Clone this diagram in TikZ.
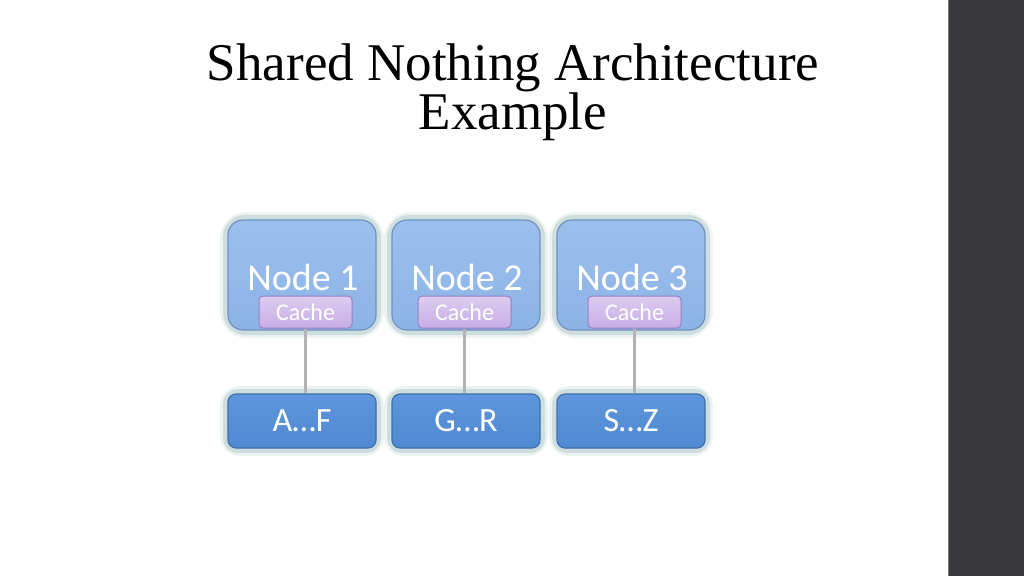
\documentclass[tikz,border=0pt]{standalone}
\usepackage{fontspec}
\setmainfont{Liberation Serif}
\newfontfamily\calib{Carlito}
\definecolor{barcol}{HTML}{39393B}
\definecolor{barline}{HTML}{7A7A7A}
\definecolor{topfill}{HTML}{9CC0EE}
\definecolor{topfillb}{HTML}{8CB3E6}
\definecolor{topdraw}{HTML}{6F92BE}
\definecolor{glowcol}{HTML}{A9C3C6}
\definecolor{cachefill}{HTML}{DCCBF0}
\definecolor{cachefillb}{HTML}{C6AFE4}
\definecolor{cachedraw}{HTML}{9B7EC0}
\definecolor{botfill}{HTML}{5E95DC}
\definecolor{botfillb}{HTML}{5089D2}
\definecolor{botdraw}{HTML}{3F6FAA}
\definecolor{conncol}{HTML}{B3B3B3}
\begin{document}
\begin{tikzpicture}[x=1pt,y=-1pt,
  glowa/.style={draw=glowcol,line width=16pt,opacity=0.2},
  glowb/.style={draw=glowcol,line width=10pt,opacity=0.45},
  topbox/.style={rounded corners=15pt,top color=topfill,bottom color=topfillb,draw=topdraw,line width=1.2pt,
    minimum width=148pt,minimum height=110pt,inner sep=0pt},
  toplabel/.style={text=white,font=\calib\fontsize{38}{40}\selectfont},
  cachebox/.style={rounded corners=4pt,top color=cachefill,bottom color=cachefillb,draw=cachedraw,line width=1pt,
    minimum width=93pt,minimum height=32pt,inner sep=0pt,text=white,font=\calib\fontsize{24}{26}\selectfont},
  botbox/.style={rounded corners=8pt,top color=botfill,bottom color=botfillb,draw=botdraw,line width=1.2pt,
    minimum width=148pt,minimum height=54pt,inner sep=0pt,text=white,font=\calib\fontsize{34}{36}\selectfont},
  conn/.style={draw=conncol,line width=2.5pt}]
\useasboundingbox (0,0) rectangle (1024,576);
\fill[white] (0,0) rectangle (1024,576);
\fill[barcol] (948,0) rectangle (1024,576);
\draw[barline,line width=1pt] (948.5,0) -- (948.5,576);
% title
\node[font=\fontsize{53}{49}\selectfont,align=center,text=black,inner sep=0pt] (title) at (513,92)
  {Shared Nothing Architecture\\Example};
% glows
\foreach \cx in {302,466,631}{
  \draw[glowa,rounded corners=19pt] (\cx-74,220) rectangle (\cx+74,330);
  \draw[glowb,rounded corners=17pt] (\cx-74,220) rectangle (\cx+74,330);
  \draw[glowa,rounded corners=12pt] (\cx-74,394) rectangle (\cx+74,448);
  \draw[glowb,rounded corners=10pt] (\cx-74,394) rectangle (\cx+74,448);
}
% top nodes
\node[topbox] (n1) at (302,275) {};
\node[topbox] (n2) at (466,275) {};
\node[topbox] (n3) at (631,275) {};
\node[toplabel] (l1) at (303,277) {Node 1};
\node[toplabel] (l2) at (467,277) {Node 2};
\node[toplabel] (l3) at (632,277) {Node 3};
\node[cachebox] (c1) at (305.5,312) {Cache};
\node[cachebox] (c2) at (464.5,312) {Cache};
\node[cachebox] (c3) at (634.5,312) {Cache};
% bottom nodes
\node[botbox] (d1) at (302,421) {A\char"2026 F};
\node[botbox] (d2) at (466,421) {G\char"2026 R};
\node[botbox] (d3) at (631,421) {S\char"2026 Z};
% connectors
\draw[conn] (c1.south) -- (c1.south |- d1.north);
\draw[conn] (c2.south) -- (c2.south |- d2.north);
\draw[conn] (c3.south) -- (c3.south |- d3.north);
\end{tikzpicture}
\end{document}
